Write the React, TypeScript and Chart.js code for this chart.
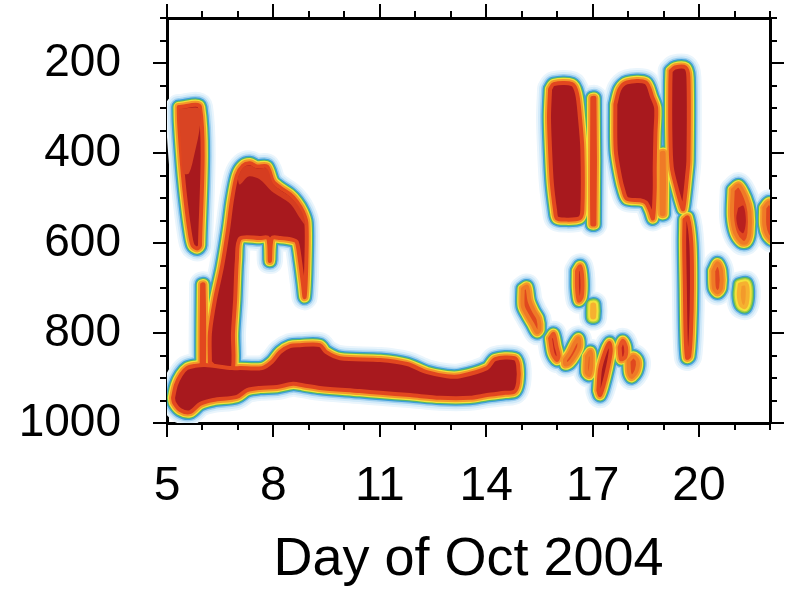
import { useEffect, useRef } from 'react';
import { Chart, registerables } from 'chart.js';
Chart.register(...registerables);

type Pt = [number, number];

// ---- axes / ticks ----
const dayMin = 5;
const dayMax = 22;
const pMin = 100;
const pMax = 1000;
const xMajorTicks = [5, 8, 11, 14, 17, 20];
const xMinorTicks = [5, 6, 7, 8, 9, 10, 11, 12, 13, 14, 15, 16, 17, 18, 19, 20, 21, 22];
const yMajorTicks = [200, 400, 600, 800, 1000];
const yMinorTicks = [100, 150, 200, 250, 300, 350, 400, 450, 500, 550, 600, 650, 700, 750, 800, 850, 900, 950, 1000];
const xTitle = 'Day of Oct 2004';

// ---- cloud regions: [day, pressure(hPa)] outlines ----
const lowBand: Pt[] = [[5.17,944],[5.25,916],[5.39,893],[5.56,878],[5.79,873],[6.07,871],[6.83,878],[7.06,878],[7.68,878],[7.96,864],[8.19,842],[8.47,829],[8.75,827],[9.31,827],[9.48,842],[9.88,856],[11.01,860],[11.77,869],[12.33,887],[12.89,896],[13.26,896],[14.02,878],[14.25,858],[14.80,856],[14.90,872],[14.90,910],[14.80,930],[14.53,933],[14.02,938],[13.54,944],[12.70,944],[11.85,938],[11.01,933],[10.44,929],[9.31,922],[8.83,916],[8.55,913],[8.10,920],[7.62,922],[7.26,927],[6.97,942],[6.30,949],[5.93,958],[5.65,976],[5.37,971],[5.20,955]];
const streakArch: Pt[] = [[6.21,865],[6.21,800],[6.35,727],[6.55,653],[6.72,571],[6.83,505],[6.97,450],[7.14,428],[7.34,423],[7.54,430],[7.82,430],[7.99,463],[8.19,477],[8.47,492],[8.66,508],[8.83,530],[8.93,555],[8.93,638],[8.88,720],[8.83,689],[8.75,640],[8.66,598],[8.55,593],[8.19,589],[7.96,589],[7.90,640],[7.85,589],[7.62,589],[7.06,590],[6.97,638],[6.92,727],[6.86,800],[6.84,885],[6.5,885]];
const archTop: Pt[] = [[6.99,455],[7.14,433],[7.34,428],[7.54,435],[7.82,435],[7.99,468],[8.19,482],[8.47,497],[8.66,513],[8.83,535],[8.90,560],[8.75,545],[8.50,515],[8.20,498],[7.95,485],[7.60,458],[7.30,452],[7.05,470]];
const earlyColumn: Pt[] = [[5.33,298],[5.93,298],[5.93,605],[5.85,612],[5.72,605],[5.63,570],[5.53,510],[5.45,450],[5.39,390],[5.34,330]];
const earlyColumnTop: Pt[] = [[5.34,302],[5.92,302],[5.92,345],[5.78,400],[5.62,445],[5.46,445],[5.40,390],[5.36,340]];
const thinLine6: Pt[] = [[5.99,692],[6.03,692],[6.04,875],[5.98,875]];
const blobB: Pt[] = [[15.80,258],[15.90,247],[16.42,247],[16.56,268],[16.64,320],[16.71,393],[16.71,527],[16.63,545],[16.2,548],[15.99,545],[15.94,527],[15.85,467],[15.80,393],[15.77,320]];
const blobC: Pt[] = [[16.99,278],[17.05,278],[17.05,558],[16.99,558]];
const blobD: Pt[] = [[17.64,292],[17.76,258],[17.97,243],[18.5,243],[18.68,276],[18.79,300],[18.77,356],[18.75,431],[18.75,482],[18.70,545],[18.62,528],[18.50,510],[18.34,505],[17.97,502],[17.86,482],[17.77,453],[17.65,393]];
const thinE: Pt[] = [[18.95,400],[19.00,400],[19.00,535],[18.95,535]];
const blobFUp: Pt[] = [[19.20,218],[19.32,210],[19.62,210],[19.70,232],[19.70,416],[19.66,453],[19.60,498],[19.55,525],[19.51,518],[19.38,482],[19.23,431],[19.19,350],[19.19,250]];
const blobFLow: Pt[] = [[19.59,548],[19.68,543],[19.78,600],[19.80,700],[19.77,800],[19.72,852],[19.66,855],[19.62,800],[19.60,700],[19.58,600]];
const blobG: Pt[] = [[20.95,482],[21.12,472],[21.32,500],[21.42,530],[21.42,578],[21.33,598],[21.2,598],[21.02,578],[20.93,540]];
const blobGCore: Pt[] = [[21.1,522],[21.25,517],[21.32,550],[21.25,578],[21.12,570],[21.05,545]];
const blobH: Pt[] = [[20.40,662],[20.52,645],[20.62,662],[20.62,700],[20.52,710],[20.42,700]];
const blobI: Pt[] = [[21.15,692],[21.33,690],[21.37,718],[21.3,742],[21.18,738],[21.12,715]];
const blobJ: Pt[] = [[21.84,522],[21.97,510],[22.06,520],[22.06,592],[21.92,582],[21.84,560]];
const blobK: Pt[] = [[15.03,702],[15.15,697],[15.22,728],[15.35,752],[15.47,768],[15.50,792],[15.43,798],[15.30,780],[15.15,760],[15.03,740]];
const blobL: Pt[] = [[15.80,812],[15.90,802],[15.98,830],[16.04,850],[15.99,860],[15.87,845]];
const blobM: Pt[] = [[16.22,860],[16.35,845],[16.50,822],[16.60,812],[16.62,830],[16.50,850],[16.35,866],[16.23,870]];
const blobN: Pt[] = [[16.56,662],[16.65,652],[16.71,682],[16.69,720],[16.61,728],[16.56,700]];
const blobO: Pt[] = [[16.99,737],[17.04,737],[17.04,765],[16.99,765]];
const blobP: Pt[] = [[16.84,852],[16.94,842],[16.96,870],[16.91,893],[16.83,888]];
const blobQ: Pt[] = [[17.16,928],[17.21,880],[17.35,842],[17.47,822],[17.51,840],[17.42,880],[17.30,918],[17.21,938]];
const blobR: Pt[] = [[17.76,832],[17.85,817],[17.94,832],[17.92,853],[17.80,858]];
const blobS: Pt[] = [[18.01,862],[18.15,852],[18.27,862],[18.24,884],[18.10,898],[18.03,888]];

type Kind = 'strong' | 'medium' | 'warm' | 'weak';
const regions: { pts: Pt[]; kind: Kind }[] = [
  { pts: lowBand, kind: 'strong' },
  { pts: streakArch, kind: 'strong' },
  { pts: earlyColumn, kind: 'strong' },
  { pts: thinLine6, kind: 'strong' },
  { pts: blobB, kind: 'strong' },
  { pts: blobC, kind: 'strong' },
  { pts: blobD, kind: 'strong' },
  { pts: thinE, kind: 'warm' },
  { pts: blobFUp, kind: 'strong' },
  { pts: blobFLow, kind: 'strong' },
  { pts: blobG, kind: 'warm' },
  { pts: blobH, kind: 'warm' },
  { pts: blobI, kind: 'weak' },
  { pts: blobJ, kind: 'warm' },
  { pts: blobK, kind: 'warm' },
  { pts: blobL, kind: 'medium' },
  { pts: blobM, kind: 'warm' },
  { pts: blobN, kind: 'medium' },
  { pts: blobO, kind: 'weak' },
  { pts: blobP, kind: 'warm' },
  { pts: blobQ, kind: 'strong' },
  { pts: blobR, kind: 'medium' },
  { pts: blobS, kind: 'warm' },
];
const overlays: { pts: Pt[]; color: string }[] = [
  { pts: earlyColumnTop, color: '#d94423' },
  { pts: archTop, color: '#d63d20' },
  { pts: blobGCore, color: '#b8201f' },
];

// ---- styles ----
const FONT = '"Liberation Sans", Arial, Helvetica, sans-serif';
const RING_W = [26, 22, 18, 15, 12.5, 10.5, 8];
const EDGE_W = 4;
const baseRings = ['#eaf5fc', '#d2eaf9', '#9fd0ef', '#3f9fd8', '#55b662', '#f2e23a', '#f49a2a'];
const PAL: Record<Kind, { rings: string[]; edge: string; fill: string }> = {
  strong: { rings: baseRings, edge: '#e2471f', fill: '#a8191e' },
  medium: { rings: baseRings, edge: '#e85424', fill: '#c4261f' },
  warm: { rings: baseRings, edge: '#ef7a27', fill: '#e0481f' },
  weak: { rings: ['#eaf5fc', '#d2eaf9', '#9fd0ef', '#3f9fd8', '#55b662', '#a8d040', '#f2e23a'], edge: '#f6b130', fill: '#f39a2b' },
};

const toData = (pts: Pt[]) => [...pts, pts[0]].map(([x, y]) => ({ x, y }));

function buildDatasets() {
  const common = {
    pointRadius: 0,
    pointHoverRadius: 0,
    tension: 0.3,
    borderJoinStyle: 'round',
    borderCapStyle: 'round',
    clip: 0,
    xAxisID: 'x',
    yAxisID: 'y',
  };
  const ds: any[] = [];
  for (let i = 0; i < RING_W.length; i++) {
    regions.forEach((r) => {
      ds.push({ ...common, data: toData(r.pts), borderColor: PAL[r.kind].rings[i], borderWidth: RING_W[i], fill: false, order: 100 - i });
    });
  }
  regions.forEach((r) => {
    ds.push({ ...common, data: toData(r.pts), borderColor: PAL[r.kind].edge, borderWidth: EDGE_W, backgroundColor: PAL[r.kind].fill, fill: 'shape', order: 10 });
  });
  overlays.forEach((o) => {
    ds.push({ ...common, data: toData(o.pts), borderColor: 'rgba(0,0,0,0)', borderWidth: 1, backgroundColor: o.color, fill: 'shape', order: 0 });
  });
  return ds;
}

function axis(position: string, kind: 'major' | 'minor', isX: boolean, size: number) {
  const major = kind === 'major';
  const ticksArr = isX ? (major ? xMajorTicks : xMinorTicks) : major ? yMajorTicks : yMinorTicks;
  const withLabels = major && (position === 'left' || position === 'bottom');
  const cfg: any = {
    type: 'linear',
    position,
    min: isX ? dayMin : pMin,
    max: isX ? dayMax : pMax,
    reverse: !isX,
    weight: major ? 1 : 0,
    afterBuildTicks: (s: any) => {
      s.ticks = ticksArr.map((v) => ({ value: v }));
    },
    afterFit: (s: any) => {
      if (isX) s.height = size;
      else s.width = size;
      s.paddingTop = 0;
      s.paddingBottom = 0;
      s.paddingLeft = 0;
      s.paddingRight = 0;
    },
    ticks: {
      display: withLabels,
      autoSkip: false,
      maxRotation: 0,
      color: '#000',
      padding: isX ? 21 : 32,
      font: { family: FONT, size: isX ? 48 : 46 },
      callback: (v: any) => String(v),
    },
    grid: {
      display: true,
      drawOnChartArea: false,
      drawTicks: true,
      tickLength: major ? 14 : 7,
      color: '#000',
      lineWidth: 2,
    },
    border: { display: true, color: '#000', width: 3 },
  };
  if (withLabels && isX) {
    cfg.title = { display: true, text: xTitle, color: '#000', font: { family: FONT, size: 54 }, padding: { top: 0, bottom: 2 } };
  }
  return cfg;
}

export default function App() {
  const ref = useRef<HTMLCanvasElement>(null);
  useEffect(() => {
    document.body.style.margin = '0';
    const chart = new Chart(ref.current as HTMLCanvasElement, {
      type: 'line',
      data: { datasets: buildDatasets() },
      options: {
        animation: false,
        responsive: false,
        devicePixelRatio: 1,
        events: [],
        layout: { padding: 0 },
        plugins: { legend: { display: false }, tooltip: { enabled: false } },
        scales: {
          x: axis('bottom', 'major', true, 172),
          xMinor: axis('bottom', 'minor', true, 0),
          xTop: axis('top', 'major', true, 18),
          xTopMinor: axis('top', 'minor', true, 0),
          y: axis('left', 'major', false, 167),
          yMinor: axis('left', 'minor', false, 0),
          yRight: axis('right', 'major', false, 18),
          yRightMinor: axis('right', 'minor', false, 0),
        },
      } as any,
    });
    return () => chart.destroy();
  }, []);
  return (
    <div style={{ width: 788, height: 595, background: '#fff' }}>
      <canvas ref={ref} width={788} height={595} style={{ display: 'block' }} />
    </div>
  );
}
